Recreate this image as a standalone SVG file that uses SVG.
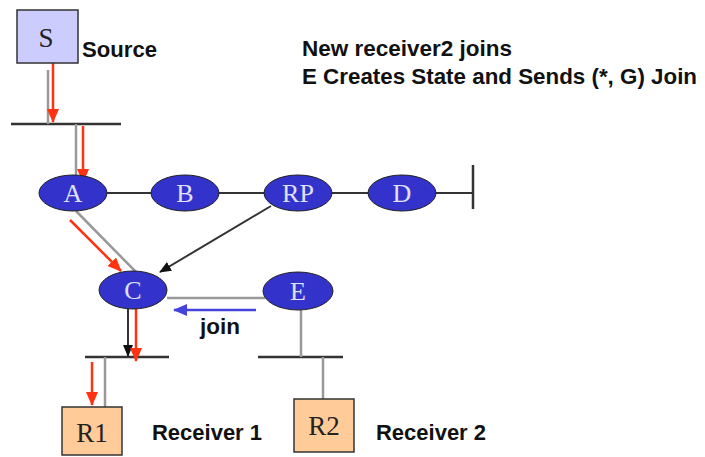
<svg xmlns="http://www.w3.org/2000/svg" width="705" height="457" viewBox="0 0 705 457">
<defs>
<style>
.lbl{font-family:"Liberation Sans",Arial,sans-serif;font-weight:bold;font-size:22px;fill:#111}
.nd{fill:#3333cc;stroke:#222;stroke-width:1}
.ndt{font-family:"Liberation Serif","Times New Roman",serif;font-size:26px;fill:#e0e0ff;text-anchor:middle}
.bx{stroke:#333;stroke-width:1.5}
.bxt{font-family:"Liberation Serif","Times New Roman",serif;font-size:27px;fill:#222;text-anchor:middle}
.bus{stroke:#333;stroke-width:2.5;fill:none}
.gray{stroke:#999;stroke-width:2.5;fill:none}
.blk{stroke:#333;stroke-width:2;fill:none}
.red{stroke:#ff3311;stroke-width:2.5;fill:none}
.blue{stroke:#4444dd;stroke-width:2.5;fill:none}
</style>
<marker id="ar" markerWidth="14" markerHeight="12" refX="13" refY="6" orient="auto" markerUnits="userSpaceOnUse"><path d="M0,0 L14,6 L0,12 Z" fill="#ff3311"/></marker>
<marker id="ak" markerWidth="12" markerHeight="10" refX="11" refY="5" orient="auto" markerUnits="userSpaceOnUse"><path d="M0,0 L12,5 L0,10 Z" fill="#111"/></marker>
<marker id="ab" markerWidth="14" markerHeight="12" refX="13" refY="6" orient="auto" markerUnits="userSpaceOnUse"><path d="M0,0 L14,6 L0,12 Z" fill="#4444dd"/></marker>
</defs>
<rect width="705" height="457" fill="#fff"/>
<g id="connectors">
<line class="bus" x1="11" y1="124" x2="121" y2="124"/>
<line class="blk" x1="107" y1="193" x2="473" y2="193"/>
<line class="bus" x1="473" y1="165" x2="473" y2="209"/>
<line class="bus" x1="85" y1="357" x2="169" y2="357"/>
<line class="bus" x1="258" y1="357" x2="343" y2="357"/>
<line class="gray" x1="48" y1="70" x2="48" y2="124"/>
<line class="gray" x1="76" y1="124" x2="76" y2="176"/>
<line class="gray" x1="76" y1="211" x2="137" y2="273"/>
<line class="gray" x1="167" y1="298" x2="265" y2="298"/>
<line class="gray" x1="301" y1="310" x2="301" y2="357"/>
<line class="gray" x1="323" y1="357" x2="323" y2="399"/>
<line class="gray" x1="105" y1="357" x2="105" y2="407"/>
<line class="blk" x1="271" y1="206" x2="160" y2="272" marker-end="url(#ak)"/>
<line class="blk" x1="128" y1="308" x2="128" y2="356" marker-end="url(#ak)"/>
<line class="red" x1="53" y1="63" x2="53" y2="122" marker-end="url(#ar)"/>
<line class="red" x1="83" y1="126" x2="83" y2="182" marker-end="url(#ar)"/>
<line class="red" x1="70" y1="220" x2="121" y2="271" marker-end="url(#ar)"/>
<line class="red" x1="136" y1="302" x2="136" y2="361" marker-end="url(#ar)"/>
<line class="red" x1="92" y1="362" x2="92" y2="405" marker-end="url(#ar)"/>
<line class="blue" x1="256" y1="310" x2="174" y2="310" marker-end="url(#ab)"/>
<text class="lbl" x="200" y="334" textLength="40" lengthAdjust="spacingAndGlyphs">join</text>
</g>
<g id="S"><rect class="bx" x="17" y="10" width="61" height="53" fill="#ccccff"/><text class="bxt" x="46" y="47">S</text></g>
<g id="A"><ellipse class="nd" cx="73" cy="193" rx="34" ry="18"/><text class="ndt" x="73" y="202">A</text></g>
<g id="B"><ellipse class="nd" cx="185" cy="193" rx="34" ry="18"/><text class="ndt" x="185" y="202">B</text></g>
<g id="RP"><ellipse class="nd" cx="298" cy="193" rx="34" ry="18"/><text class="ndt" x="298" y="202">RP</text></g>
<g id="D"><ellipse class="nd" cx="402" cy="193" rx="34" ry="18"/><text class="ndt" x="402" y="202">D</text></g>
<g id="C"><ellipse class="nd" cx="133" cy="290" rx="34" ry="19"/><text class="ndt" x="133" y="299">C</text></g>
<g id="E"><ellipse class="nd" cx="298" cy="291" rx="35" ry="19"/><text class="ndt" x="298" y="300">E</text></g>
<g id="R1"><rect class="bx" x="62" y="407" width="60" height="48" fill="#ffcc99"/><text class="bxt" x="92" y="442">R1</text></g>
<g id="R2"><rect class="bx" x="294" y="399" width="60" height="53" fill="#ffcc99"/><text class="bxt" x="324" y="435">R2</text></g>
<g id="labels">
<text class="lbl" x="82" y="57" textLength="75" lengthAdjust="spacingAndGlyphs">Source</text>
<text class="lbl" x="302" y="56" textLength="210" lengthAdjust="spacingAndGlyphs">New receiver2 joins</text>
<text class="lbl" x="302" y="84" textLength="395" lengthAdjust="spacingAndGlyphs">E Creates State and Sends (*, G) Join</text>
<text class="lbl" x="152" y="440" textLength="110" lengthAdjust="spacingAndGlyphs">Receiver 1</text>
<text class="lbl" x="376" y="440" textLength="110" lengthAdjust="spacingAndGlyphs">Receiver 2</text>
</g>
</svg>
